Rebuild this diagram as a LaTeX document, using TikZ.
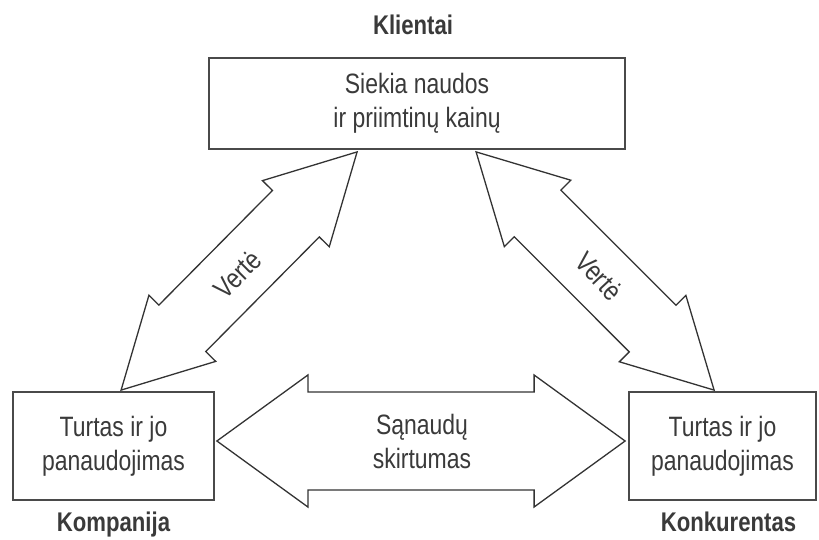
\documentclass[tikz,border=0pt]{standalone}
\usepackage{fontspec}
\setmainfont{Liberation Sans}[FakeStretch=0.82]
\usetikzlibrary{calc}
\definecolor{boxline}{HTML}{4A4A4A}
\definecolor{arrline}{HTML}{333333}
\definecolor{txt}{HTML}{3A3A3A}
\tikzset{
  box/.style={draw=boxline, line width=1.8pt, fill=white, inner sep=0pt, align=center, text=txt, font=\fontsize{28}{34}\selectfont},
  lbl/.style={text=txt, inner sep=0pt, anchor=base, font=\fontsize{27}{32}\selectfont\bfseries},
  blk/.style={draw=arrline, line width=1.3pt, line join=miter, fill=white},
  atext/.style={text=txt, align=center, inner sep=0pt, font=\fontsize{28}{34}\selectfont},
}
% block double arrow: #1 start, #2 end, #3 head length, #4 head half-width, #5 shaft half-width
\newcommand\blkarrow[5]{%
  \path ($(#1)!#3!(#2)$) coordinate (bap1) ($(#2)!#3!(#1)$) coordinate (bap2);
  \draw[blk] (#1) -- ($(bap1)!#4!90:(#2)$) -- ($(bap1)!#5!90:(#2)$)
    -- ($(bap2)!#5!-90:(#1)$) -- ($(bap2)!#4!-90:(#1)$) -- (#2)
    -- ($(bap2)!#4!90:(#1)$) -- ($(bap2)!#5!90:(#1)$)
    -- ($(bap1)!#5!-90:(#2)$) -- ($(bap1)!#4!-90:(#2)$) -- cycle;
}
\begin{document}
\begin{tikzpicture}[x=1pt,y=-1pt]
\useasboundingbox[fill=white] (0,0) rectangle (819,540);
% boxes
\path (417,103.5) node[box, minimum width=416pt, minimum height=91pt] (T) {Siekia naudos\\ir priimtinų kainų};
\path (113.5,446) node[box, minimum width=201pt, minimum height=108pt] (L) {Turtas ir jo\\panaudojimas};
\path (722.5,446) node[box, minimum width=187pt, minimum height=108pt] (R) {Turtas ir jo\\panaudojimas};
% arrow end points
\coordinate (vl1) at ($(L.north west)+(109,-1)$);
\coordinate (vl2) at ($(T.south west)+(149,2)$);
\coordinate (vr1) at ($(T.south west)+(268,2)$);
\coordinate (vr2) at ($(R.north west)+(86,-1)$);
\coordinate (h1) at ($(L.east)+(2,-5)$);
\coordinate (h2) at ($(R.west)+(-3,-5)$);
% arrows
\blkarrow{vl1}{vl2}{87pt}{47pt}{33pt}
\blkarrow{vr1}{vr2}{87pt}{47pt}{33pt}
\blkarrow{h1}{h2}{91pt}{66pt}{49pt}
% arrow texts
\node[atext, rotate=45] (v1) at ($(vl1)!0.5!(vl2)+(-2,3)$) {Vertė};
\node[atext, rotate=-47] (v2) at ($(vr1)!0.5!(vr2)+(4,5)$) {Vertė};
\node[atext] (s) at ($(h1)!0.5!(h2)+(1,0)$) {Sąnaudų\\skirtumas};
% labels
\node[lbl] (kl) at ($(T.north)+(-4,-23)$) {Klientai};
\node[lbl] (ko) at ($(L.south)+(0,31)$) {Kompanija};
\node[lbl] (kn) at ($(R.south)+(6,31)$) {Konkurentas};
\end{tikzpicture}
\end{document}
